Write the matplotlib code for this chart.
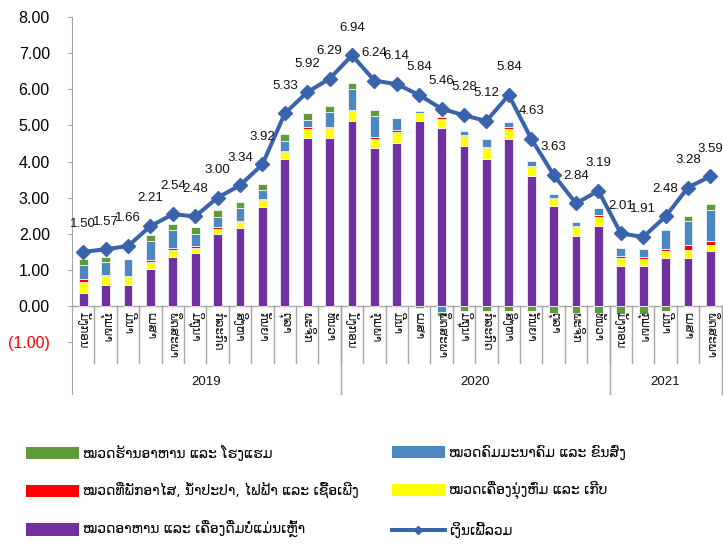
import numpy as np
import matplotlib
matplotlib.use('Agg')
import matplotlib.pyplot as plt
from matplotlib.patches import Patch
from matplotlib.lines import Line2D

months = ['ມັງກອນ', 'ກຸມພາ', 'ມີນາ', 'ເມສາ', 'ພຶດສະພາ', 'ມິຖຸນາ', 'ກໍລະກົດ',
          'ສິງຫາ', 'ກັນຍາ', 'ຕຸລາ', 'ພະຈິກ', 'ທັນວາ']
years = ['2019', '2020', '2021']
year_counts = [12, 12, 5]
cats = months * 2 + months[:5]

# total inflation (line)
total = [1.50, 1.57, 1.66, 2.21, 2.54, 2.48, 3.00, 3.34, 3.92, 5.33, 5.92, 6.29,
         6.94, 6.24, 6.14, 5.84, 5.46, 5.28, 5.12, 5.84, 4.63, 3.63, 2.84, 3.19,
         2.01, 1.91, 2.48, 3.28, 3.59]

# contributions (stacked bars, bottom to top)
food = [0.37, 0.58, 0.58, 1.03, 1.36, 1.47, 2.00, 2.17, 2.74, 4.06, 4.66, 4.66,
        5.12, 4.36, 4.50, 5.12, 4.94, 4.43, 4.08, 4.61, 3.61, 2.76, 1.95, 2.21,
        1.12, 1.12, 1.32, 1.32, 1.52]
clothing = [0.30, 0.24, 0.22, 0.18, 0.19, 0.14, 0.13, 0.15, 0.19, 0.20, 0.23, 0.28,
            0.28, 0.27, 0.31, 0.23, 0.25, 0.27, 0.29, 0.30, 0.24, 0.22, 0.23, 0.26,
            0.22, 0.19, 0.19, 0.22, 0.16]
housing = [0.07, 0.03, 0.04, 0.05, 0.06, 0.04, 0.05, 0.04, 0.02, 0.03, 0.06, 0.02,
           0.03, 0.05, 0.05, 0.00, 0.03, 0.03, 0.03, 0.04, 0.02, 0.02, 0.04, 0.05,
           0.05, 0.05, 0.06, 0.14, 0.11]
transport = [0.40, 0.36, 0.45, 0.54, 0.49, 0.33, 0.27, 0.35, 0.25, 0.28, 0.20, 0.41,
             0.59, 0.58, 0.35, 0.05, -0.16, 0.11, 0.21, 0.15, 0.14, 0.09, 0.10, 0.19,
             0.22, 0.23, 0.53, 0.68, 0.86]
restaurant = [0.15, 0.15, 0.00, 0.16, 0.17, 0.21, 0.20, 0.17, 0.19, 0.18, 0.18, 0.17,
              0.14, 0.16, 0.00, -0.05, -0.11, -0.14, -0.14, -0.14, -0.14, -0.18, -0.20, -0.20,
              -0.22, -0.23, -0.15, 0.13, 0.16]

series = [
    (food, '#7030A0', 'ໝວດອາຫານ ແລະ ເຄື່ອງດື່ມບໍ່ແມ່ນເຫຼົ້າ'),
    (clothing, '#FFFF00', 'ໝວດເຄື່ອງນຸ່ງຫົ່ມ ແລະ ເກີບ'),
    (housing, '#FF0000', 'ໝວດທີ່ພັກອາໄສ, ນ້ຳປະປາ, ໄຟຟ້າ ແລະ ເຊື້ອເພີງ'),
    (transport, '#4C89C0', 'ໝວດຄົມມະນາຄົມ ແລະ ຂົນສົ່ງ'),
    (restaurant, '#5F9B3C', 'ໝວດຮ້ານອາຫານ ແລະ ໂຮງແຮມ'),
]
line_label = 'ເງິນເຟີ້ລວມ'
line_color = '#3A63AD'

LAO = ['DejaVu Sans']
NUM = ['Liberation Sans', 'DejaVu Sans']
GRAY = '#A6A6A6'

W, H = 723, 545
fig = plt.figure(figsize=(W / 100, H / 100), dpi=100)
left, right, top, bottom = 72, 721.6, 17, 394
ax = fig.add_axes([left / W, 1 - bottom / H, (right - left) / W, (bottom - top) / H])

px_per_unit = (306 - 17) / 8.0
ymin = -(bottom - 306) / px_per_unit
ax.set_ylim(ymin, 8)
n = len(cats)
x = np.arange(n)
ax.set_xlim(-0.5, n - 0.5)

pos_base = np.zeros(n)
neg_base = np.zeros(n)
for vals, color, label in series:
    v = np.array(vals)
    b = np.where(v >= 0, pos_base, neg_base)
    ax.bar(x, v, 0.4, bottom=b, color=color, edgecolor='white', linewidth=0.5, zorder=2)
    pos_base = pos_base + np.where(v >= 0, v, 0)
    neg_base = neg_base + np.where(v < 0, v, 0)

ax.plot(x, total, color=line_color, lw=2.9, marker='D', ms=7.5, zorder=4)
for xi, t in zip(x, total):
    ax.annotate('%.2f' % t, (xi, t), xytext=(0, 20), textcoords='offset points',
                ha='center', va='center', fontsize=9.5, family=NUM, color='#111111', zorder=5)

# axes styling
for s in ['top', 'right', 'bottom']:
    ax.spines[s].set_visible(False)
ax.spines['left'].set_color(GRAY)
ax.set_xticks([])
ax.set_yticks(range(-1, 9))
ax.set_yticklabels(['(1.00)'] + ['%.2f' % v for v in range(0, 9)], family=NUM, fontsize=11.5)
ax.get_yticklabels()[0].set_color('#FF0000')
ax.tick_params(axis='y', length=3, color=GRAY, pad=13)
ax.axhline(0, color=GRAY, lw=1, zorder=1)

# category label boxes
month_bottom = -(363 - 306) / px_per_unit
for i in range(1, n + 1):
    ax.plot([i - 0.5, i - 0.5], [0, month_bottom], color=GRAY, lw=1, clip_on=False, zorder=1)
for i, m in enumerate(cats):
    ax.text(i, -(312 - 306) / px_per_unit, m, rotation=-90, ha='center', va='top',
            fontsize=8.5, family=LAO, color='#111111')
start = 0
for yr, cnt in zip(years, year_counts):
    end = start + cnt
    ax.plot([end - 0.5, end - 0.5], [0, ymin], color=GRAY, lw=1, clip_on=False, zorder=1)
    ax.text((start + end - 1) / 2, -(382 - 306) / px_per_unit, yr, ha='center', va='center',
            fontsize=9.5, family=NUM, color='#111111')
    start = end

# legend in two columns
h = {lab: Patch(facecolor=c, edgecolor='none') for _, c, lab in series}
labs = [s[2] for s in series]
left_labels = [labs[4], labs[2], labs[0]]
right_handles = [h[labs[3]], h[labs[1]],
                 Line2D([], [], color=line_color, lw=2.9, marker='D', ms=4)]
right_labels = [labs[3], labs[1], line_label]
yc = 1 - 491.5 / H
kw = dict(loc='center left', frameon=False, borderpad=0, borderaxespad=0,
          handlelength=3.8, handleheight=1.0, handletextpad=0.3, labelspacing=1.6,
          prop={'family': LAO, 'size': 10})
leg1 = fig.legend([h[l] for l in left_labels], left_labels, bbox_to_anchor=(26 / W, yc), **kw)
leg2 = fig.legend(right_handles, right_labels, bbox_to_anchor=(392 / W, yc), **kw)

fig.savefig('out.png', dpi=100)
